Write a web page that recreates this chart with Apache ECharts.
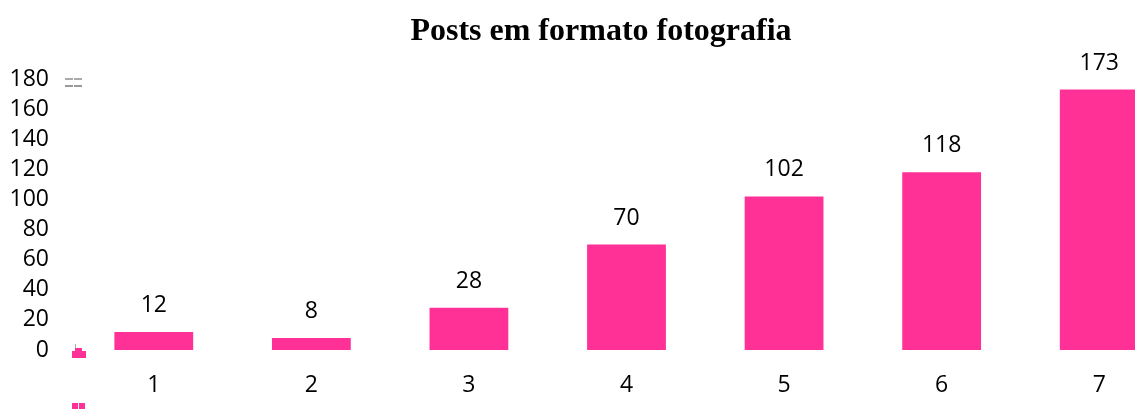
<!DOCTYPE html>
<html>
<head>
<meta charset="utf-8">
<script src="https://cdn.jsdelivr.net/npm/echarts@6/dist/echarts.min.js"></script>
<style>
  html, body { margin: 0; padding: 0; background: #fff; }
  #chart { width: 1135px; height: 410px; }
</style>
</head>
<body>
<div id="chart"></div>
<script>
const categories = ['1', '2', '3', '4', '5', '6', '7'];
const posts = [12, 8, 28, 70, 102, 118, 173];
const yTicks = { min: 0, max: 180, interval: 20 };

const barColor = '#ff3096';
const labelFont = 'Open Sans, Noto Sans, sans-serif';

const chart = echarts.init(document.getElementById('chart'));

chart.setOption({
  animation: false,
  title: {
    text: 'Posts em formato fotografia',
    left: 596,
    top: 11,
    textAlign: 'center',
    textStyle: {
      fontFamily: 'Liberation Serif, serif',
      fontWeight: 'bold',
      fontSize: 32,
      color: '#000',
    },
  },
  grid: {
    left: 75,
    top: 79,
    width: 1103,
    bottom: 60,
    outerBoundsMode: 'none',
    containLabel: false,
  },
  xAxis: {
    type: 'category',
    data: categories,
    axisLine: { show: false },
    axisTick: { show: false },
    axisLabel: {
      color: '#000',
      fontSize: 23,
      fontFamily: labelFont,
      margin: 24,
    },
  },
  yAxis: {
    type: 'value',
    min: yTicks.min,
    max: yTicks.max,
    interval: yTicks.interval,
    axisLine: { show: false },
    axisTick: { show: false },
    splitLine: { show: false },
    axisLabel: {
      color: '#000',
      fontSize: 23,
      fontFamily: labelFont,
      margin: 26,
    },
  },
  series: [
    {
      type: 'bar',
      data: posts,
      barWidth: '50%',
      itemStyle: { color: barColor },
      label: {
        show: true,
        position: 'top',
        distance: 15,
        color: '#000',
        fontSize: 23,
        fontFamily: labelFont,
      },
    },
  ],
  // small leftover legend/axis fragments near the y axis
  graphic: [
    { type: 'rect', shape: { x: 65, y: 78, width: 8, height: 2 }, style: { fill: '#aaa' } },
    { type: 'rect', shape: { x: 74, y: 78, width: 8, height: 2 }, style: { fill: '#aaa' } },
    { type: 'rect', shape: { x: 65, y: 85, width: 8, height: 2 }, style: { fill: '#999' } },
    { type: 'rect', shape: { x: 74, y: 85, width: 8, height: 2 }, style: { fill: '#999' } },
    { type: 'rect', shape: { x: 75, y: 344, width: 1, height: 8 }, style: { fill: '#aaa' } },
    { type: 'rect', shape: { x: 75, y: 348, width: 7, height: 4 }, style: { fill: barColor } },
    { type: 'rect', shape: { x: 72, y: 351, width: 14, height: 7 }, style: { fill: barColor } },
    { type: 'rect', shape: { x: 72, y: 403, width: 6, height: 6 }, style: { fill: barColor } },
    { type: 'rect', shape: { x: 79, y: 403, width: 6, height: 6 }, style: { fill: barColor } },
  ],
});
</script>
</body>
</html>
